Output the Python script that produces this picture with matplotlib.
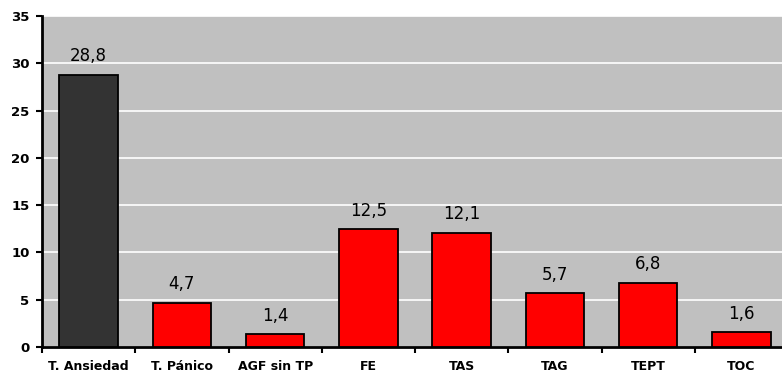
import matplotlib
matplotlib.use("Agg")
import matplotlib.pyplot as plt
import numpy as np

categories = ["T. Ansiedad", "T. Pánico", "AGF sin TP", "FE", "TAS", "TAG", "TEPT", "TOC"]
values = [28.8, 4.7, 1.4, 12.5, 12.1, 5.7, 6.8, 1.6]
labels = ["28,8", "4,7", "1,4", "12,5", "12,1", "5,7", "6,8", "1,6"]
colors = ["#333333"] + ["#FF0000"] * 7

fig = plt.figure(figsize=(7.82, 3.74), dpi=100)
ax = fig.add_axes([42/782, 1 - 347/374, (788-42)/782, (347-16)/374])
ax.set_facecolor("#C0C0C0")
x = np.arange(len(categories))
ax.bar(x, values, width=0.63, color=colors, edgecolor="black", linewidth=1.3, zorder=3)
for xi, v, lab in zip(x, values, labels):
    ax.annotate(lab, (xi, v), xytext=(0, 9.5), textcoords="offset points",
                ha="center", va="baseline", fontsize=12, color="black", zorder=4)

ax.set_xlim(-0.5, len(categories) - 0.5)
ax.set_ylim(0, 35)
ax.set_yticks(np.arange(0, 36, 5))
ax.yaxis.grid(True, color="white", linewidth=1.2, zorder=1)
ax.set_axisbelow(True)
ax.set_xticks(np.arange(-0.5, len(categories), 1))
ax.set_xticklabels([])
ax.set_xticks(x, minor=True)
ax.set_xticklabels(categories, minor=True, fontsize=9, fontweight="bold")
ax.tick_params(axis="x", which="minor", length=0, pad=9)
ax.tick_params(axis="x", which="major", length=4, width=1.5, direction="out")
ax.tick_params(axis="y", length=4, width=1.5, direction="out", labelsize=9.5, pad=5)
for t in ax.get_yticklabels():
    t.set_fontweight("bold")
for s in ["top", "right"]:
    ax.spines[s].set_visible(False)
for s in ["left", "bottom"]:
    ax.spines[s].set_linewidth(2)
    ax.spines[s].set_color("black")

fig.savefig("out.png", dpi=100)
